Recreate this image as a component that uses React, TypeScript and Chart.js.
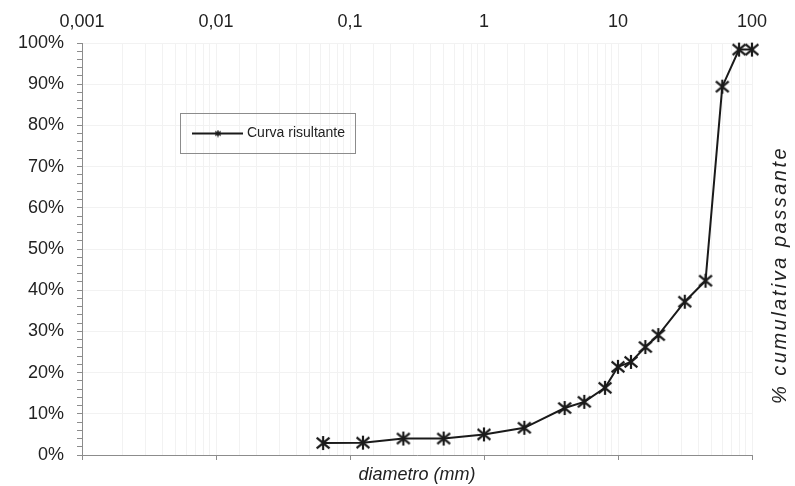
import React, { useEffect, useRef } from 'react';
import { Chart, registerables } from 'chart.js';

Chart.register(...registerables);

// ---- data ----
const diameters = [0.063, 0.125, 0.25, 0.5, 1, 2, 4, 5.6, 8, 10, 12.5, 16, 20, 31.5, 45, 60, 80, 100];
const passing = [2.9, 3.0, 4.0, 4.0, 5.0, 6.6, 11.4, 12.9, 16.3, 21.4, 22.6, 26.2, 29.1, 37.2, 42.3, 89.4, 98.4, 98.4];
const xTickValues = [0.001, 0.01, 0.1, 1, 10, 100];
const xTickLabels = ['0,001', '0,01', '0,1', '1', '10', '100'];
const yTickValues = [0, 10, 20, 30, 40, 50, 60, 70, 80, 90, 100];
const yTickLabels = ['0%', '10%', '20%', '30%', '40%', '50%', '60%', '70%', '80%', '90%', '100%'];
const seriesName = 'Curva risultante';
const xTitle = 'diametro (mm)';
const yTitle = '% cumulativa passante';

const FONT = '"Liberation Sans", Arial, sans-serif';
const TEXT = '#222222';
const LINE = '#1a1a1a';
const AXIS = '#8c8c8c';
const GRID = '#f2f2f2';

function makeStar(size: number, lw: number, inset: number): HTMLCanvasElement {
  const c = document.createElement('canvas');
  c.width = size;
  c.height = size;
  const g = c.getContext('2d')!;
  g.strokeStyle = LINE;
  g.lineWidth = lw;
  g.lineCap = 'butt';
  const m = lw / 2 + 0.5;
  g.beginPath();
  g.moveTo(m, m + inset);
  g.lineTo(size - m, size - m - inset);
  g.moveTo(size - m, m + inset);
  g.lineTo(m, size - m - inset);
  g.moveTo(size / 2, m - 0.5);
  g.lineTo(size / 2, size - m + 0.5);
  g.stroke();
  return c;
}

const overlayPlugin = {
  id: 'overlay',
  afterDraw(chart: any) {
    const { ctx, chartArea } = chart;
    ctx.save();
    // legend box
    const bx = chartArea.left + 98;
    const by = chartArea.top + 70;
    const bw = 175;
    const bh = 40;
    ctx.strokeStyle = AXIS;
    ctx.lineWidth = 1;
    ctx.strokeRect(bx + 0.5, by + 0.5, bw, bh);
    const ly = by + bh / 2 + 0.5;
    ctx.strokeStyle = LINE;
    ctx.lineWidth = 2;
    ctx.beginPath();
    ctx.moveTo(bx + 12, ly);
    ctx.lineTo(bx + 63, ly);
    ctx.stroke();
    const lm = makeStar(8, 1.4, 1);
    ctx.drawImage(lm, bx + 38 - lm.width / 2, ly - lm.height / 2);
    ctx.fillStyle = TEXT;
    ctx.font = '14px ' + FONT;
    ctx.textBaseline = 'middle';
    ctx.textAlign = 'left';
    ctx.fillText(seriesName, bx + 67, ly);
    // right-hand title
    ctx.translate(chartArea.right + 28, chartArea.top + 232);
    ctx.rotate(-Math.PI / 2);
    ctx.font = 'italic 20px ' + FONT;
    try { (ctx as any).letterSpacing = '2.5px'; } catch (e) {}
    ctx.textAlign = 'center';
    ctx.textBaseline = 'middle';
    ctx.fillText(yTitle, 0, 0);
    ctx.restore();
  },
};

export default function App() {
  const ref = useRef<HTMLCanvasElement>(null);

  useEffect(() => {
    if (!ref.current) return;
    Chart.defaults.font.family = FONT;
    const marker = makeStar(16, 2.2, 1);
    const chart = new Chart(ref.current, {
      type: 'line',
      data: {
        datasets: [
          {
            label: seriesName,
            data: diameters.map((d, i) => ({ x: d, y: passing[i] })),
            borderColor: LINE,
            borderWidth: 2,
            tension: 0,
            pointStyle: marker as any,
            pointRadius: 8,
            clip: false as any,
            xAxisID: 'x',
            yAxisID: 'y',
          },
        ],
      },
      options: {
        animation: false,
        responsive: false,
        maintainAspectRatio: false,
        layout: { padding: { left: 0, right: 43, top: 0, bottom: 0 } },
        plugins: { legend: { display: false }, tooltip: { enabled: false } },
        scales: {
          x: {
            type: 'logarithmic',
            position: 'bottom',
            min: xTickValues[0],
            max: xTickValues[xTickValues.length - 1],
            afterBuildTicks: (s: any) => {
              s.ticks = xTickValues.map((v) => ({ value: v }));
            },
            afterFit: (s: any) => {
              s.height = 31;
            },
            ticks: { display: false },
            grid: { drawOnChartArea: false, drawTicks: true, tickLength: 5, tickColor: AXIS, tickWidth: 1 },
            border: { display: true, color: AXIS, width: 1 },
            title: {
              display: true,
              text: xTitle,
              color: TEXT,
              font: { size: 18, style: 'italic' },
              padding: { top: 0, bottom: 0 },
            },
          },
          x2: {
            type: 'logarithmic',
            position: 'top',
            min: xTickValues[0],
            max: xTickValues[xTickValues.length - 1],
            afterFit: (s: any) => {
              s.height = 43;
            },
            ticks: {
              autoSkip: false,
              maxRotation: 0,
              padding: 10,
              color: TEXT,
              font: { size: 18 },
              callback: (v: any) => {
                const e = Math.log10(Number(v));
                const r = Math.round(e);
                if (Math.abs(e - r) < 1e-6) {
                  const idx = xTickValues.findIndex((t) => Math.abs(Math.log10(t) - r) < 1e-6);
                  return idx >= 0 ? xTickLabels[idx] : '';
                }
                return '';
              },
            },
            grid: { drawTicks: false, color: GRID },
            border: { display: false },
          },
          y: {
            type: 'linear',
            position: 'left',
            min: yTickValues[0],
            max: yTickValues[yTickValues.length - 1],
            afterFit: (s: any) => {
              s.width = 82;
            },
            ticks: {
              stepSize: 2,
              autoSkip: false,
              padding: 13,
              color: TEXT,
              font: { size: 18 },
              callback: (v: any) => {
                const idx = yTickValues.indexOf(Number(v));
                return idx >= 0 ? yTickLabels[idx] : '';
              },
            },
            grid: {
              color: (c: any) => (c.tick && yTickValues.indexOf(c.tick.value) >= 0 ? GRID : 'rgba(0,0,0,0)'),
              tickLength: 5,
              tickColor: AXIS,
            },
            border: { display: true, color: AXIS, width: 1 },
          },
        },
      } as any,
      plugins: [overlayPlugin],
    });
    return () => chart.destroy();
  }, []);

  return (
    <div style={{ position: 'fixed', left: 0, top: 0, width: 795, height: 486, background: '#fff' }}>
      <canvas ref={ref} width={795} height={486} style={{ width: 795, height: 486, display: 'block' }} />
    </div>
  );
}
